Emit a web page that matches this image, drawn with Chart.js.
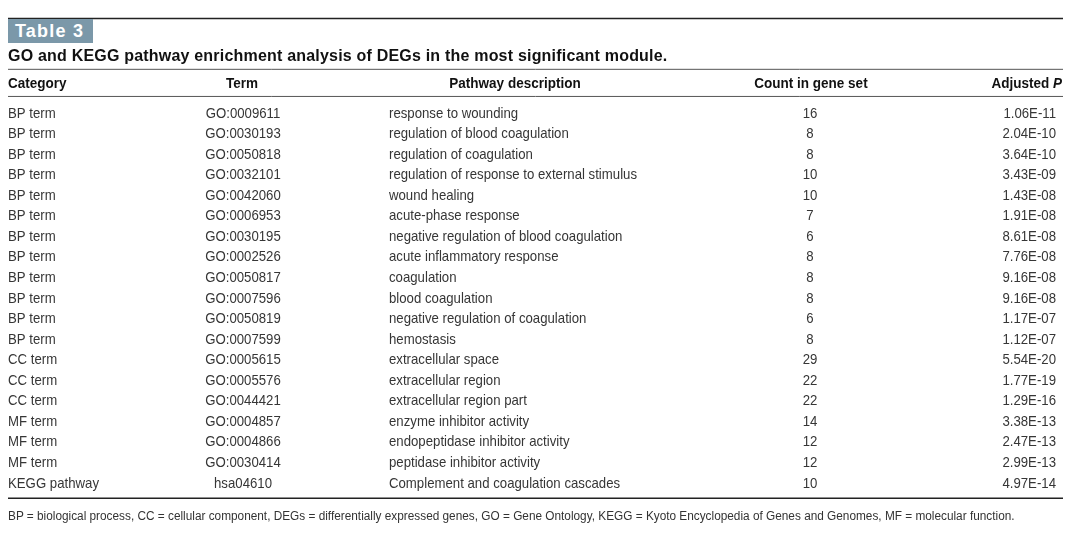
<!DOCTYPE html>
<html>
<head>
<meta charset="utf-8">
<script src="https://cdn.jsdelivr.net/npm/chart.js@4.4.1/dist/chart.umd.min.js"></script>
<style>
  body { margin: 0; background: #fff; }
  #wrap { position: relative; width: 1080px; height: 548px; }
  #table-chart { position: absolute; left: 0; top: 0; }
  .label {
    position: absolute; left: 8px; top: 19px; width: 85px; height: 24px;
    background: #7b98a9; color: #fff; font: bold 18px "Liberation Sans", Arial, sans-serif;
    letter-spacing: 1.2px; line-height: 25px; box-sizing: border-box; padding-left: 7px;
  }
  .title {
    position: absolute; left: 8px; top: 47px; white-space: nowrap;
    font: bold 16px "Liberation Sans", Arial, sans-serif; letter-spacing: 0.2px; color: #111;
  }
  .note {
    position: absolute; left: 8px; top: 509px; white-space: nowrap;
    font: 12.5px "Liberation Sans", Arial, sans-serif; color: #333;
    transform: scaleX(0.945); transform-origin: 0 0;
  }
</style>
</head>
<body>
<div id="wrap">
  <canvas id="table-chart" width="1080" height="548"></canvas>
  <div class="label">Table 3</div>
  <div class="title">GO and KEGG pathway enrichment analysis of DEGs in the most significant module.</div>
  <div class="note">BP = biological process, CC = cellular component, DEGs = differentially expressed genes, GO = Gene Ontology, KEGG = Kyoto Encyclopedia of Genes and Genomes, MF = molecular function.</div>
</div>
<script>
const headers = ['Category', 'Term', 'Pathway description', 'Count in gene set', 'Adjusted '];
const categories = ['BP term', 'BP term', 'BP term', 'BP term', 'BP term', 'BP term', 'BP term', 'BP term',
    'BP term', 'BP term', 'BP term', 'BP term', 'CC term', 'CC term', 'CC term', 'MF term', 'MF term',
    'MF term', 'KEGG pathway'];
const terms = ['GO:0009611', 'GO:0030193', 'GO:0050818', 'GO:0032101', 'GO:0042060', 'GO:0006953',
    'GO:0030195', 'GO:0002526', 'GO:0050817', 'GO:0007596', 'GO:0050819', 'GO:0007599', 'GO:0005615',
    'GO:0005576', 'GO:0044421', 'GO:0004857', 'GO:0004866', 'GO:0030414', 'hsa04610'];
const descriptions = ['response to wounding', 'regulation of blood coagulation', 'regulation of coagulation',
    'regulation of response to external stimulus', 'wound healing', 'acute-phase response',
    'negative regulation of blood coagulation', 'acute inflammatory response', 'coagulation',
    'blood coagulation', 'negative regulation of coagulation', 'hemostasis', 'extracellular space',
    'extracellular region', 'extracellular region part', 'enzyme inhibitor activity',
    'endopeptidase inhibitor activity', 'peptidase inhibitor activity', 'Complement and coagulation cascades'];
const counts = [16, 8, 8, 10, 10, 7, 6, 8, 8, 8, 6, 8, 29, 22, 22, 14, 12, 12, 10];
const adjustedP = ['1.06E-11', '2.04E-10', '3.64E-10', '3.43E-09', '1.43E-08', '1.91E-08', '8.61E-08',
    '7.76E-08', '9.16E-08', '9.16E-08', '1.17E-07', '1.12E-07', '5.54E-20', '1.77E-19', '1.29E-16',
    '3.38E-13', '2.47E-13', '2.99E-13', '4.97E-14'];

// column anchors on the x scale (0..1080) and how text sits on them
const columns = [
    { values: categories, x: 8, align: 'left', headX: 8, headAlign: 'left' },
    { values: terms, x: 243, align: 'center', headX: 242, headAlign: 'center' },
    { values: descriptions, x: 389, align: 'left', headX: 515, headAlign: 'center' },
    { values: counts, x: 810, align: 'center', headX: 811, headAlign: 'center' },
    { values: adjustedP, x: 1056, align: 'right', headX: 1062, headAlign: 'right' }
];

// Liberation Sans squeezed to look like a condensed grotesque
const bodyNarrow = 0.88, headNarrow = 0.9;
const bodyFont = '15px "Liberation Sans", Arial, sans-serif';
const headFont = 'bold 15px "Liberation Sans", Arial, sans-serif';
const rowPitch = 20.55;
const firstRowY = 113.5;

function narrowText(ctx, text, x, y, align, k) {
    ctx.save();
    ctx.translate(x, y);
    ctx.scale(k, 1);
    ctx.textAlign = align;
    ctx.fillText(text, 0, 0);
    ctx.restore();
}

const tableText = {
    id: 'tableText',
    afterDatasetsDraw(chart) {
        const ctx = chart.ctx;
        const xs = chart.scales.x, ys = chart.scales.y;
        ctx.save();
        function rule(y, w, color) {
            ctx.beginPath();
            ctx.strokeStyle = color;
            ctx.lineWidth = w;
            ctx.moveTo(xs.getPixelForValue(8), y);
            ctx.lineTo(xs.getPixelForValue(1063), y);
            ctx.stroke();
        }
        rule(18.5, 1.5, '#222');
        rule(ys.getPixelForValue(-2.15), 1, '#555');
        rule(ys.getPixelForValue(-0.83), 1, '#555');
        rule(ys.getPixelForValue(18.72), 1.5, '#222');

        // header
        ctx.fillStyle = '#111';
        ctx.textBaseline = 'middle';
        const hy = ys.getPixelForValue(-1.42);
        columns.forEach((c, i) => {
            const hx = xs.getPixelForValue(c.headX);
            ctx.font = headFont;
            if (i === columns.length - 1) {
                ctx.font = 'italic ' + headFont;
                const pw = ctx.measureText('P').width * headNarrow;
                narrowText(ctx, 'P', hx, hy, 'right', headNarrow);
                ctx.font = headFont;
                narrowText(ctx, headers[i], hx - pw, hy, 'right', headNarrow);
            } else {
                narrowText(ctx, headers[i], hx, hy, c.headAlign, headNarrow);
            }
        });

        // cells, placed on each dataset's points
        ctx.font = bodyFont;
        ctx.fillStyle = '#363636';
        chart.data.datasets.forEach((ds, i) => {
            const meta = chart.getDatasetMeta(i);
            meta.data.forEach((pt, j) => {
                narrowText(ctx, String(columns[i].values[j]), pt.x, pt.y, columns[i].align, bodyNarrow);
            });
        });
        ctx.restore();
    }
};

const yMin = -firstRowY / rowPitch;
new Chart(document.getElementById('table-chart'), {
    type: 'scatter',
    data: {
        datasets: columns.map(c => ({
            data: c.values.map((v, j) => ({ x: c.x, y: j })),
            pointRadius: 0,
            pointHoverRadius: 0
        }))
    },
    options: {
        responsive: false,
        animation: false,
        events: [],
        layout: { padding: 0 },
        plugins: { legend: { display: false }, tooltip: { enabled: false } },
        scales: {
            x: { type: 'linear', min: 0, max: 1080, display: false },
            y: { type: 'linear', reverse: true, min: yMin, max: yMin + 548 / rowPitch, display: false }
        }
    },
    plugins: [tableText]
});
</script>
</body>
</html>
